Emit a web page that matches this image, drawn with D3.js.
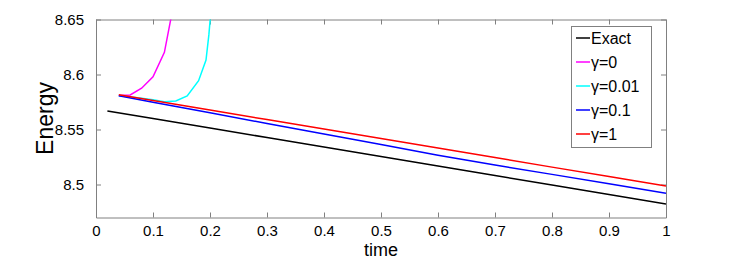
<!DOCTYPE html>
<html><head><meta charset="utf-8">
<script src="https://cdn.jsdelivr.net/npm/d3@7"></script>
<style>body{margin:0;background:#fff}svg{display:block}text{font-family:"Liberation Sans",Arial,sans-serif}</style>
</head><body><svg id="c" width="736" height="262"></svg>
<script>
const xTicks = [0,0.1,0.2,0.3,0.4,0.5,0.6,0.7,0.8,0.9,1];
const yTicks = [8.5,8.55,8.6,8.65];
const tExact = [0.02,0.1,0.2,0.3,0.4,0.5,0.6,0.7,0.8,0.9,1.0];
const eExact = [8.5668,8.5599,8.5513,8.5427,8.5340,8.5254,8.5168,8.5082,8.4996,8.4909,8.4823];
const tG0 = [0.04,0.06,0.08,0.10,0.12,0.14];
const eG0 = [8.5810,8.5814,8.5875,8.5980,8.6202,8.6740];
const tG001 = [0.04,0.06,0.08,0.10,0.12,0.14,0.16,0.18,0.193,0.198,0.202];
const eG001 = [8.5807,8.5795,8.5783,8.5771,8.5752,8.5759,8.5805,8.5944,8.6132,8.6360,8.6600];
const tG01 = [0.04,0.1,0.2,0.3,0.4,0.5,0.6,0.7,0.8,0.9,1.0];
const eG01 = [8.5807,8.5748,8.5652,8.5555,8.5459,8.5363,8.5265,8.5177,8.5092,8.5006,8.4920];
const tG1 = [0.04,0.1,0.2,0.3,0.4,0.5,0.6,0.7,0.8,0.9,1.0];
const eG1 = [8.5815,8.5763,8.5677,8.5590,8.5504,8.5418,8.5331,8.5245,8.5158,8.5072,8.4986];
const seriesNames = ["Exact","\u03b3=0","\u03b3=0.01","\u03b3=0.1","\u03b3=1"];
const seriesColors = ["#000000","#ff00ff","#00ffff","#0000ff","#ff0000"];

const L=96,R=666,T=19.5,B=217.5;
const svg=d3.select("#c");
const x=d3.scaleLinear().domain([0,1]).range([L,R]);
const y=d3.scaleLinear().domain([8.47,8.65]).range([B,T]);
const axisCol="#808080";
const defs=svg.append("defs");
defs.append("clipPath").attr("id","clip").append("rect").attr("x",L).attr("y",T).attr("width",R-L).attr("height",B-T);

const ax=svg.append("g");
ax.append("g").attr("transform",`translate(0,${B})`).call(d3.axisBottom(x).tickValues(xTicks).tickSizeInner(-5).tickSizeOuter(0).tickPadding(8).tickFormat(d=>d===0||d===1?String(d):d3.format(".1f")(d)));
ax.append("g").attr("transform",`translate(0,${T})`).call(d3.axisTop(x).tickValues(xTicks).tickSizeInner(-5).tickSizeOuter(0).tickFormat(""));
ax.append("g").attr("transform",`translate(${L},0)`).call(d3.axisLeft(y).tickValues(yTicks).tickSizeInner(-5).tickSizeOuter(0).tickPadding(12).tickFormat(d=>String(+d.toFixed(2))));
ax.append("g").attr("transform",`translate(${R},0)`).call(d3.axisRight(y).tickValues(yTicks).tickSizeInner(-5).tickSizeOuter(0).tickFormat(""));
ax.selectAll(".domain").attr("stroke",axisCol);
ax.selectAll(".tick line").attr("stroke",axisCol);
ax.selectAll(".tick text").attr("fill","#000").style("font-size","15px");

const data=[[tExact,eExact],[tG0,eG0],[tG001,eG001],[tG01,eG01],[tG1,eG1]];
const line=d3.line().x(d=>x(d[0])).y(d=>y(d[1]));
const g=svg.append("g").attr("clip-path","url(#clip)");
data.forEach((s,i)=>{
  const pts=s[0].map((t,j)=>[t,s[1][j]]);
  g.append("path").attr("d",line(pts)).attr("fill","none").attr("stroke",seriesColors[i]).attr("stroke-width",1.5);
});

svg.append("text").attr("x",(L+R)/2).attr("y",256).attr("text-anchor","middle").style("font-size","18px").text("time");
svg.append("text").attr("transform",`translate(53,${(T+B)/2}) rotate(-90)`).attr("text-anchor","middle").style("font-size","23px").text("Energy");

const lg=svg.append("g");
lg.append("rect").attr("x",571.5).attr("y",26.5).attr("width",80).attr("height",121).attr("fill","#fff").attr("stroke",axisCol).attr("stroke-width",1);
seriesNames.forEach((n,i)=>{
  const yy=38+i*24;
  lg.append("line").attr("x1",576).attr("x2",590).attr("y1",yy).attr("y2",yy).attr("stroke",seriesColors[i]).attr("stroke-width",1.5);
  lg.append("text").attr("x",591).attr("y",yy).attr("dy","0.35em").style("font-size","16px").text(n);
});
</script></body></html>
